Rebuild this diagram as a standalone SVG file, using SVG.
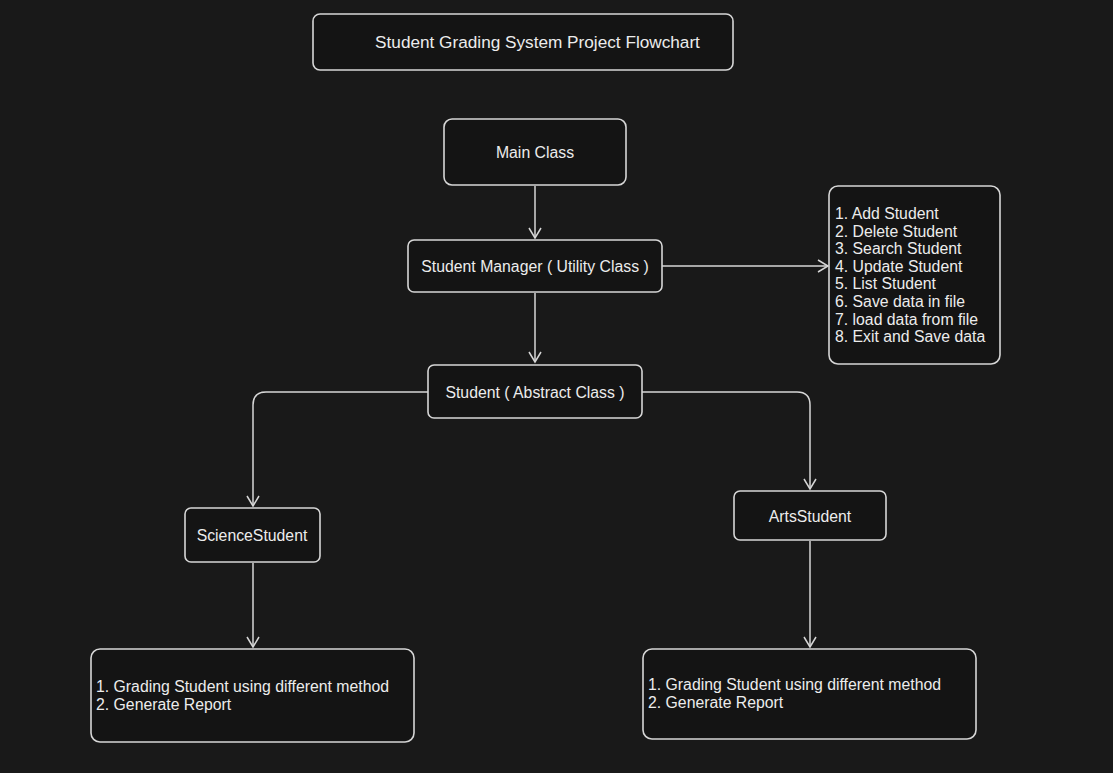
<svg xmlns="http://www.w3.org/2000/svg" width="1113" height="773" viewBox="0 0 1113 773">
<defs>
<style>
.box{fill:#141414;stroke:#d6d6d6;stroke-width:1.6}
.t{fill:#ececec;font-family:"Liberation Sans",Arial,sans-serif;font-size:15.8px}
.c{text-anchor:middle;dominant-baseline:central}
.ln{fill:none;stroke:#d6d6d6;stroke-width:1.5}
</style>
<marker id="ah" markerWidth="14" markerHeight="14" refX="11" refY="7" orient="auto" markerUnits="userSpaceOnUse">
<path d="M1,1 L11,7 L1,13" fill="none" stroke="#d6d6d6" stroke-width="1.5"/>
</marker>
</defs>
<rect width="1113" height="773" fill="#191919"/>
<g id="title"><rect class="box" x="313" y="14" width="420" height="56" rx="7"/><text class="t c" x="537.5" y="42" style="font-size:17.2px">Student Grading System Project Flowchart</text></g>
<g id="main"><rect class="box" x="444" y="119" width="182" height="66" rx="8"/><text class="t c" x="535" y="152">Main Class</text></g>
<g id="manager"><rect class="box" x="408" y="240" width="254" height="52" rx="6"/><text class="t c" x="535" y="266">Student Manager ( Utility Class )</text></g>
<g id="menu"><rect class="box" x="829" y="186" width="171" height="178" rx="9"/>
<text class="t" x="835" y="219">1. Add Student</text>
<text class="t" x="835" y="236.6">2. Delete Student</text>
<text class="t" x="835" y="254.2">3. Search Student</text>
<text class="t" x="835" y="271.8">4. Update Student</text>
<text class="t" x="835" y="289.4">5. List Student</text>
<text class="t" x="835" y="307">6. Save data in file</text>
<text class="t" x="835" y="324.6">7. load data from file</text>
<text class="t" x="835" y="342.2">8. Exit and Save data</text></g>
<g id="student"><rect class="box" x="428" y="365" width="214" height="53" rx="6"/><text class="t c" x="535" y="392">Student ( Abstract Class )</text></g>
<g id="science"><rect class="box" x="185" y="508" width="135" height="54" rx="6"/><text class="t c" x="252" y="535">ScienceStudent</text></g>
<g id="arts"><rect class="box" x="734" y="491" width="152" height="49" rx="6"/><text class="t c" x="810" y="516">ArtsStudent</text></g>
<g id="science-methods"><rect class="box" x="91" y="649" width="323" height="93" rx="9"/>
<text class="t" x="96" y="692">1. Grading Student using different method</text>
<text class="t" x="96" y="709.5">2. Generate Report</text></g>
<g id="arts-methods"><rect class="box" x="643" y="649" width="333" height="90" rx="9"/>
<text class="t" x="648" y="690">1. Grading Student using different method</text>
<text class="t" x="648" y="707.5">2. Generate Report</text></g>
<g id="connectors">
<path class="ln" d="M535,186 V238" marker-end="url(#ah)"/>
<path class="ln" d="M662,266 H828" marker-end="url(#ah)"/>
<path class="ln" d="M535,293 V362" marker-end="url(#ah)"/>
<path class="ln" d="M428,392 H266 Q253,392 253,405 V506" marker-end="url(#ah)"/>
<path class="ln" d="M642,392 H797 Q810,392 810,405 V489" marker-end="url(#ah)"/>
<path class="ln" d="M253,563 V647" marker-end="url(#ah)"/>
<path class="ln" d="M810,541 V647" marker-end="url(#ah)"/>
</g>
</svg>
